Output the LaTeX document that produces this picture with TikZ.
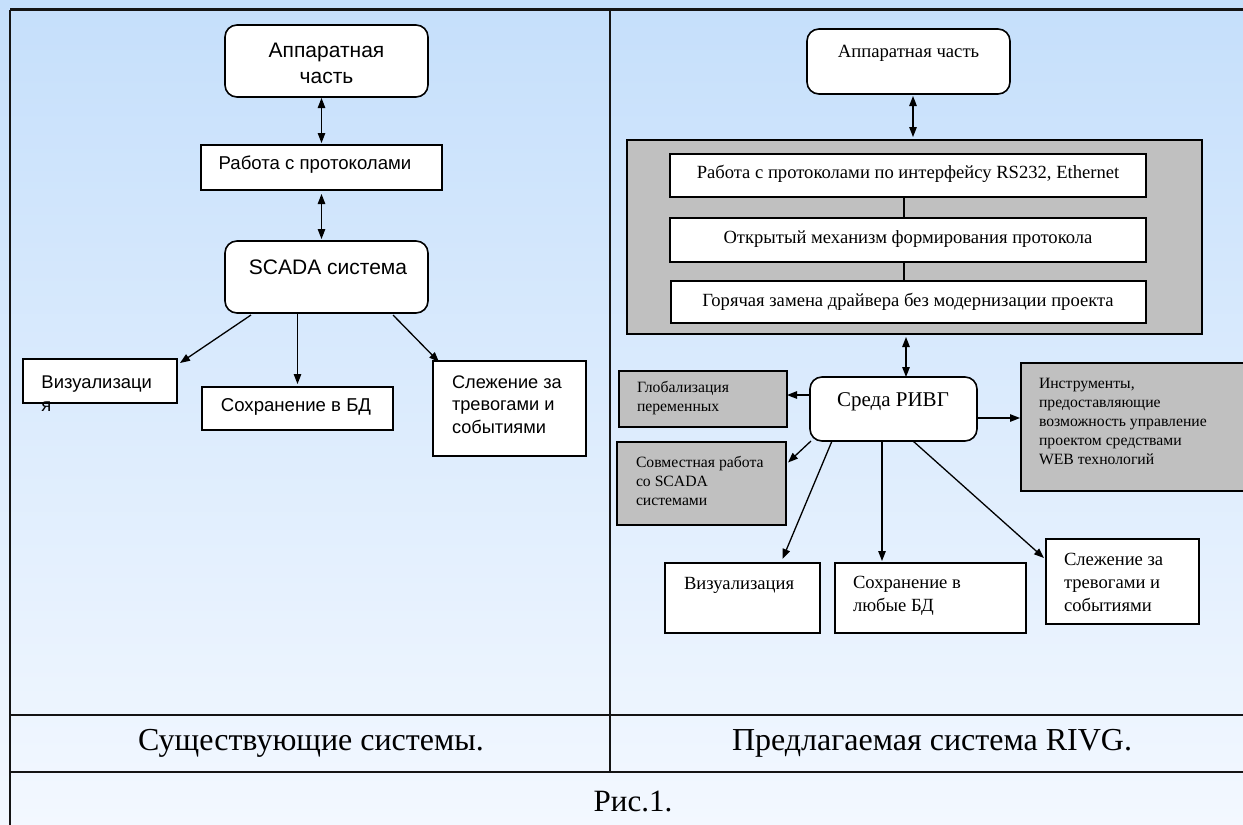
\documentclass[tikz,border=0pt]{standalone}
\usepackage{fontspec}
\setmainfont{Liberation Serif}
\newfontfamily\arialf{Liberation Sans}
\usetikzlibrary{arrows.meta,calc}
\definecolor{bgtop}{RGB}{197,223,251}
\definecolor{bgbot}{RGB}{243,248,255}
\definecolor{boxgray}{RGB}{192,192,192}
\definecolor{framec}{RGB}{20,20,20}
\newcommand{\fs}[2]{\fontsize{#1}{#2}\selectfont}
\begin{document}
\begin{tikzpicture}[x=1pt,y=-1pt,
  box/.style={draw=black, line width=1.6pt, fill=white, inner sep=0pt, outer sep=0pt},
  rbox/.style={box, rounded corners=12pt},
  gbox/.style={box, fill=boxgray},
  txt/.style={inner sep=0pt, outer sep=0pt},
  arr/.style={-{Triangle[length=10pt,width=7.5pt]}, line width=1.3pt},
  dbl/.style={{Triangle[length=10pt,width=7.5pt]}-{Triangle[length=10pt,width=7.5pt]}, line width=1.3pt},
  frameline/.style={draw=framec, line width=2.2pt}]
\clip (0,0) rectangle (1243,825);
\shade[top color=bgtop, bottom color=bgbot] (0,0) rectangle (1243,825);
% frame
\draw[frameline] (10,9.5) -- (1260,9.5);
\draw[frameline] (10,9.5) -- (10,840);
\draw[frameline] (610,9.5) -- (610,772);
\draw[frameline] (10,715) -- (1260,715);
\draw[frameline] (10,772) -- (1260,772);

% ---------- left ----------
\node[rbox, minimum width=203, minimum height=72] (lapp) at (326.5,61) {};
\node[txt, align=center, font={\arialf\fs{21}{26}}] (lappt) at (326.5,63) {Аппаратная\\часть};
\node[box, minimum width=241, minimum height=45] (lprot) at (321.5,167.5) {};
\node[txt, font={\arialf\fs{18.6}{23}}] (lprott) at (315,165) {Работа с протоколами};
\node[rbox, minimum width=203, minimum height=72] (lscada) at (326.5,277) {};
\node[txt, font={\arialf\fs{21}{26}}] (lscadat) at (328,267) {SCADA система};
\node[box, minimum width=154, minimum height=44] (lvis) at (100,381) {};
\node[txt, anchor=west, align=left, font={\arialf\fs{18.4}{23}}] (lvist) at (41.5,393.5) {Визуализаци\\я};
\node[box, minimum width=191, minimum height=43] (lsave) at (297.5,408.5) {};
\node[txt, font={\arialf\fs{18.6}{23}}] (lsavet) at (296,407) {Сохранение в БД};
\node[box, minimum width=153, minimum height=95] (lalarm) at (509.5,408.5) {};
\node[txt, anchor=west, align=left, font={\arialf\fs{18.2}{22.5}}] (lalarmt) at (452,404.5) {Слежение за\\тревогами и\\событиями};

\draw[dbl, shorten <=1pt, shorten >=2pt] (lapp.south -| lprot.north) -- (lprot.north);
\draw[dbl, shorten <=4pt, shorten >=2pt] (lprot.south) -- (lprot.south |- lscada.north);
\draw[arr] ($(lscada.south west)+(26,2)$) -- ($(lvis.north east)+(3,4)$);
\draw[arr, shorten >=3pt] (lscada.south -| lsave.north) -- (lsave.north);
\draw[arr] ($(lscada.south east)+(-35,2)$) -- ($(lalarm.north west)+(6,1)$);

% ---------- right ----------
\node[rbox, minimum width=203, minimum height=65] (rapp) at (908.5,61.5) {};
\node[txt, font={\fs{18.7}{22}}] (rappt) at (908.5,53) {Аппаратная часть};
\node[gbox, minimum width=575, minimum height=194] (rgray) at (914.5,237) {};
\node[box, minimum width=476, minimum height=43] (rb1) at (908,175.5) {};
\node[txt, font={\fs{18.6}{22}}] (rb1t) at (908,174) {Работа с протоколами по интерфейсу RS232, Ethernet};
\node[box, minimum width=476, minimum height=44] (rb2) at (908,240) {};
\node[txt, font={\fs{18.6}{22}}] (rb2t) at (908,239) {Открытый механизм формирования протокола};
\node[box, minimum width=475, minimum height=42] (rb3) at (908.5,302) {};
\node[txt, font={\fs{18.6}{22}}] (rb3t) at (908,302) {Горячая замена драйвера без модернизации проекта};
\draw[line width=1.3pt] ([xshift=-4pt]rb1.south) -- ([xshift=-4pt]rb1.south |- rb2.north);
\draw[line width=1.3pt] ([xshift=-4.5pt]rb3.north) -- ([xshift=-4.5pt]rb3.north |- rb2.south);
\draw[dbl, shorten <=2pt, shorten >=3pt] (rapp.south -| 913,0) -- (rgray.north -| 913,0);

\node[rbox, minimum width=167, minimum height=64] (rsreda) at (893.5,409) {};
\node[txt, font={\fs{21}{25}}] (rsredat) at (893,402) {Среда РИВГ};
\draw[dbl, shorten <=3pt, shorten >=0pt] (rgray.south -| 906,0) -- (rsreda.north -| 906,0);

\node[gbox, minimum width=168, minimum height=56] (rglob) at (703,399) {};
\node[txt, anchor=west, align=left, font={\fs{15.7}{19}}] (rglobt) at (637,398.5) {Глобализация\\переменных};
\node[gbox, minimum width=169, minimum height=83] (rsovm) at (701.5,483.5) {};
\node[txt, anchor=west, align=left, font={\fs{15.7}{19}}] (rsovmt) at (636,481) {Совместная работа\\со SCADA\\системами};
\node[gbox, minimum width=226, minimum height=128] (rinst) at (1134,427) {};
\node[txt, anchor=west, align=left, font={\fs{15.7}{19}}] (rinstt) at (1039,421) {Инструменты,\\предоставляющие\\возможность управление\\проектом средствами\\WEB технологий};
\node[box, minimum width=155, minimum height=70] (rvis) at (742.5,598) {};
\node[txt, anchor=west, font={\fs{18.6}{23}}] (rvist) at (684,585) {Визуализация};
\node[box, minimum width=191, minimum height=70] (rsave) at (930.5,598) {};
\node[txt, anchor=west, align=left, font={\fs{18.6}{23}}] (rsavet) at (853,595.5) {Сохранение в\\любые БД};
\node[box, minimum width=153, minimum height=85] (ralarm) at (1122.5,581.5) {};
\node[txt, anchor=west, align=left, font={\fs{18.6}{23}}] (ralarmt) at (1064,582) {Слежение за\\тревогами и\\событиями};

\draw[arr] ([yshift=14pt]rsreda.west) -- ([yshift=14pt]rsreda.west -| rglob.east);
\draw[arr] ([xshift=1pt]rsreda.south west) -- ([yshift=21pt,xshift=2pt]rsovm.east);
\draw[arr, shorten >=1pt] ([yshift=-9pt]rsreda.east) -- ([yshift=-9pt]rsreda.east -| rinst.west);
\draw[arr] ([xshift=22pt]rsreda.south west) -- ([xshift=40pt,yshift=4pt]rvis.north);
\draw[arr, shorten >=2pt] ([xshift=-11.5pt]rsreda.south) -- ([xshift=-11.5pt]rsreda.south |- rsave.north);
\draw[arr] ([xshift=19.5pt]rsreda.south) -- ([yshift=-19pt,xshift=-2pt]ralarm.north west);

% ---------- captions ----------
\node[txt, font={\fs{32}{36}}] (capl) at (311,743) {Существующие системы.};
\node[txt, font={\fs{32}{36}}] (capr) at (932,743) {Предлагаемая система RIVG.};
\node[txt, font={\fs{31}{36}}] (capf) at (633,801) {Рис.1.};
\end{tikzpicture}
\end{document}
